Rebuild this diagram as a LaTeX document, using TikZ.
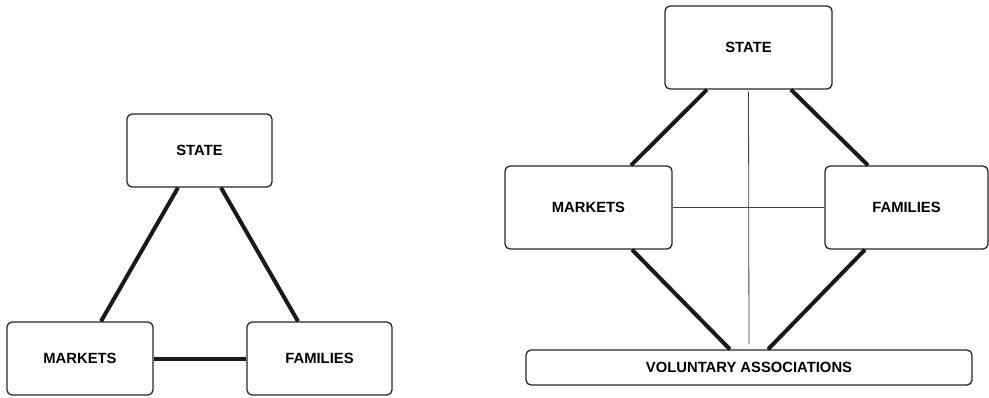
\documentclass[tikz,border=0pt]{standalone}
\usepackage{fontspec}
\setmainfont{Liberation Sans}
\usetikzlibrary{calc}
\begin{document}
\begin{tikzpicture}[x=1pt,y=-1pt,
  box/.style={draw=black!85,line width=1.3pt,rounded corners=5pt,inner sep=0pt,
    font=\fontsize{14.8}{16}\selectfont\bfseries},
  thick link/.style={line width=4pt,black!90},
  thin link/.style={line width=0.8pt,black!75}]
\useasboundingbox (0,0) rectangle (989,397);
% left diagram
\node[box,minimum width=145pt,minimum height=73pt] (lS) at (199.5,150.5) {STATE};
\node[box,minimum width=146pt,minimum height=73pt] (lM) at (80,358.5) {MARKETS};
\node[box,minimum width=145pt,minimum height=73pt] (lF) at (319.5,358.5) {FAMILIES};
\draw[thick link] ($(lS.south)+(-21.5,0)$) -- ($(lM.north)+(21,0)$);
\draw[thick link] ($(lS.south)+(21.5,0)$) -- ($(lF.north)+(-21.5,0)$);
\draw[thick link] (lM.east) -- (lF.west);
% right diagram
\node[box,minimum width=167pt,minimum height=83pt] (rS) at (748.5,47.5) {STATE};
\node[box,minimum width=167pt,minimum height=83pt] (rM) at (588.5,207.5) {MARKETS};
\node[box,minimum width=163pt,minimum height=83pt] (rF) at (906.5,207.5) {FAMILIES};
\node[box,minimum width=446pt,minimum height=35pt] (rV) at (749,367.5) {VOLUNTARY ASSOCIATIONS};
\draw[thick link] ($(rS.south)+(-41.5,0)$) -- ($(rM.north)+(42.5,0)$);
\draw[thick link] ($(rS.south)+(42.5,0)$) -- ($(rF.north)+(-38.5,0)$);
\draw[thick link] ($(rM.south)+(43.5,0)$) -- ($(rV.north)+(-19,0)$);
\draw[thick link] ($(rF.south)+(-41.5,0)$) -- ($(rV.north)+(19,0)$);
\draw[thin link,shorten <=2pt,shorten >=5pt] (rS.south) -- (rV.north);
\draw[thin link] (rM.east) -- (rF.west);
\end{tikzpicture}
\end{document}
